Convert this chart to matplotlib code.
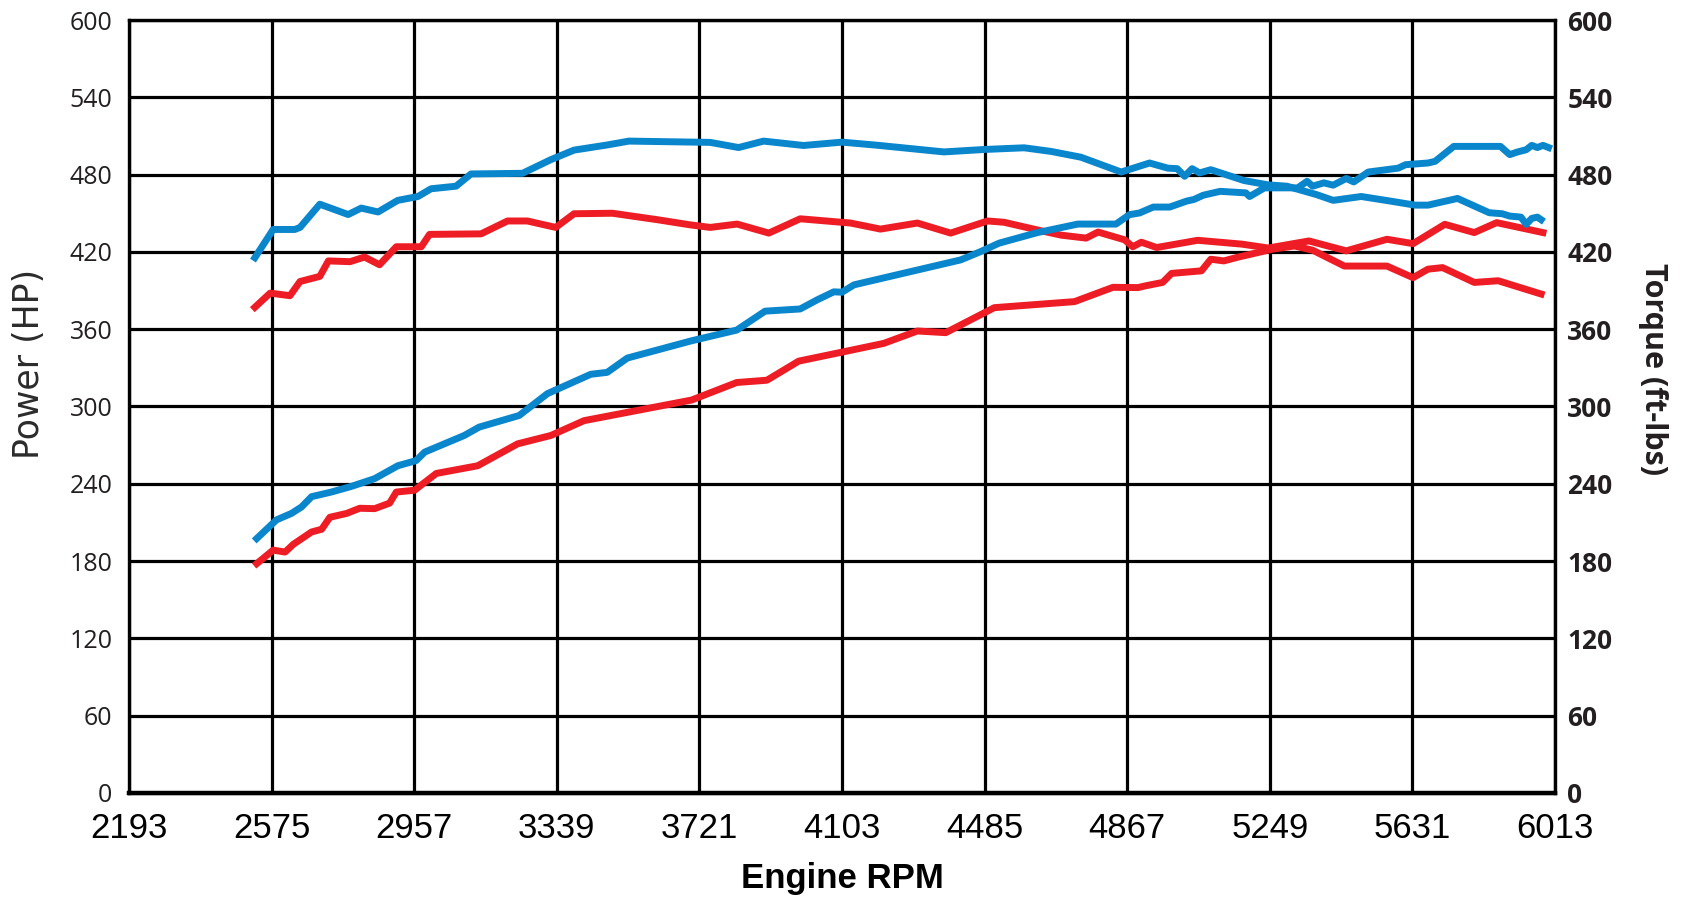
import matplotlib
matplotlib.use('Agg')
import matplotlib.pyplot as plt

# blue run - torque (upper blue curve)
blue_tq_rpm = [2530, 2579, 2637, 2651, 2704, 2780, 2815, 2860, 2913, 2967, 3002, 3069, 3109,
               3247, 3323, 3385, 3474, 3532, 3750, 3826, 3893, 4000, 4103, 4197, 4376, 4484,
               4591, 4663, 4743, 4851, 4927, 4976, 5001, 5021, 5041, 5061, 5091, 5180, 5245,
               5295, 5374, 5419, 5494, 5573, 5638, 5673, 5752, 5837, 5872, 5892, 5922, 5936,
               5951, 5966, 5976]
blue_tq = [415.5, 437.4, 437.4, 439, 457, 449, 454, 451, 460, 463, 469, 471, 480.5,
           481, 491.6, 499, 503, 506, 505, 501, 506, 502.6, 505.2, 502.8, 497.6, 499.5,
           500.8, 498, 493.5, 482, 489, 485, 484.6, 478.7, 484.6, 481.3, 483.8, 475.4, 472,
           471, 464.5, 460, 463, 459.4, 456.3, 456.3, 461.5, 450.4, 449.6, 447.8, 447, 441.4,
           446, 447, 445]

# blue run - power (lower blue curve)
blue_hp_rpm = [2535, 2588, 2628, 2655, 2682, 2735, 2789, 2851, 2913, 2962, 2985, 3091, 3131,
               3238, 3314, 3430, 3474, 3528, 3700, 3821, 3897, 3991, 4036, 4081, 4103, 4135,
               4421, 4475, 4524, 4627, 4735, 4837, 4873, 4900, 4937, 4981, 5026, 5046, 5071,
               5116, 5185, 5195, 5235, 5324, 5349, 5364, 5394, 5419, 5454, 5474, 5513, 5593,
               5613, 5673, 5692, 5742, 5867, 5892, 5912, 5936, 5951, 5966, 5981, 5996]
blue_hp = [197.5, 212, 217, 222, 230, 233.6, 238, 244, 254, 258, 264.6, 277.5, 284,
           293, 310, 325, 326.5, 337.6, 351, 359.3, 374, 375.7, 382.7, 389, 388.7, 394.4,
           413.8, 420.3, 426.8, 435, 441.6, 441.6, 448.9, 450.2, 454.8, 454.8, 459.4, 460.7, 464,
           467, 465.8, 463, 469.7, 469.7, 474.8, 471, 473.6, 471.8, 477, 474.3, 482, 485,
           487.7, 489, 490.3, 501.9, 501.9, 495.5, 497.5, 499.3, 502.7, 501, 502.7, 501]

# red run - torque (upper red curve)
red_tq_rpm = [2530, 2571, 2624, 2651, 2704, 2727, 2785, 2824, 2864, 2909, 2976, 2998, 3136,
              3207, 3260, 3336, 3385, 3488, 3608, 3696, 3750, 3822, 3907, 3991, 4126, 4206,
              4305, 4394, 4493, 4537, 4627, 4690, 4757, 4789, 4860, 4882, 4905, 4946, 5056,
              5175, 5245, 5354, 5454, 5563, 5633, 5718, 5797, 5857, 5981]
red_tq = [377, 388, 386, 397, 401, 413, 412.4, 416, 410, 424, 424, 433.6, 434,
          444, 444, 439, 449.6, 450, 445, 441, 439, 441.6, 434.6, 445.7, 442.4, 437.7,
          442.4, 434.6, 444, 443, 437, 433, 430.7, 435.4, 429.4, 424, 427.5, 423.4, 429,
          426, 423, 428.5, 420.8, 429.8, 426.4, 441.4, 435, 442.7, 435]

# red run - power (lower red curve)
red_hp_rpm = [2535, 2579, 2611, 2633, 2682, 2709, 2731, 2776, 2811, 2851, 2891, 2909, 2958,
              3016, 3127, 3234, 3323, 3412, 3700, 3821, 3902, 3987, 4108, 4215, 4305, 4381,
              4511, 4726, 4829, 4896, 4917, 4962, 4986, 5066, 5091, 5126, 5165, 5255, 5315,
              5364, 5449, 5563, 5633, 5673, 5712, 5797, 5861, 5976]
red_hp = [178, 188.5, 187, 193, 202.6, 204.7, 214, 217, 221, 220.7, 225, 233.6, 235,
          248, 254, 271, 277.5, 289, 305, 318.6, 320.4, 335.2, 342.5, 349, 358.6, 357.3,
          376.7, 381.4, 392.5, 392.3, 393.7, 396.3, 403.3, 405.3, 414.3, 413, 416, 422, 424.6,
          421.3, 409, 409, 400, 406.6, 407.8, 396.3, 397.6, 387.3]

x_ticks = [2193, 2575, 2957, 3339, 3721, 4103, 4485, 4867, 5249, 5631, 6013]
y_ticks = [0, 60, 120, 180, 240, 300, 360, 420, 480, 540, 600]

BLUE = '#0a86cd'
RED = '#ee1c25'
TXT = '#231f20'
LW = 5.0

fig = plt.figure(figsize=(16.85, 9.01), dpi=100)
ax = fig.add_axes([0.0766, 0.1199, 0.8462, 0.8579])

ax.plot(red_tq_rpm, red_tq, color=RED, lw=LW, zorder=3)
ax.plot(red_hp_rpm, red_hp, color=RED, lw=LW, zorder=3)
ax.plot(blue_tq_rpm, blue_tq, color=BLUE, lw=LW, zorder=4)
ax.plot(blue_hp_rpm, blue_hp, color=BLUE, lw=LW, zorder=4)

ax.set_xlim(x_ticks[0], x_ticks[-1])
ax.set_ylim(0, 600)
ax.set_xticks(x_ticks)
ax.set_yticks(y_ticks)
ax.set_xticklabels([str(t) for t in x_ticks],
                   family=['Liberation Sans Narrow', 'Liberation Sans'], fontsize=25)
ax.set_yticklabels([str(t) for t in y_ticks], family='Open Sans', fontsize=18, color=TXT)
ax.grid(True, color='black', lw=2.3, zorder=1)
ax.set_axisbelow(True)
for s in ax.spines.values():
    s.set_linewidth(2.3)
ax.spines['bottom'].set_linewidth(3.2)
ax.tick_params(axis='both', length=0)
ax.tick_params(axis='y', pad=12)
ax.tick_params(axis='x', pad=14)

ax2 = ax.twinx()
ax2.set_ylim(0, 600)
ax2.set_yticks(y_ticks)
ax2.set_yticklabels([str(t) for t in y_ticks], family='Open Sans', fontweight='bold',
                    fontsize=19, color=TXT)
ax2.tick_params(axis='y', length=0, pad=9)
for s in ax2.spines.values():
    s.set_linewidth(2.3)

ax.set_xlabel('Engine RPM', family=['Liberation Sans Narrow', 'Liberation Sans'],
              fontweight='bold', fontsize=25, labelpad=12)
ax.set_ylabel('Power (HP)', family='DejaVu Sans', fontsize=25, color='#2b2b2b')
ax.yaxis.set_label_coords(-0.058, 0.555)
ax2.set_ylabel('Torque (ft-lbs)', family='Open Sans', fontweight='bold', fontsize=22,
               color=TXT, rotation=270, va='center')
ax2.yaxis.set_label_coords(1.069, 0.548)

fig.savefig('out.png', dpi=100)
